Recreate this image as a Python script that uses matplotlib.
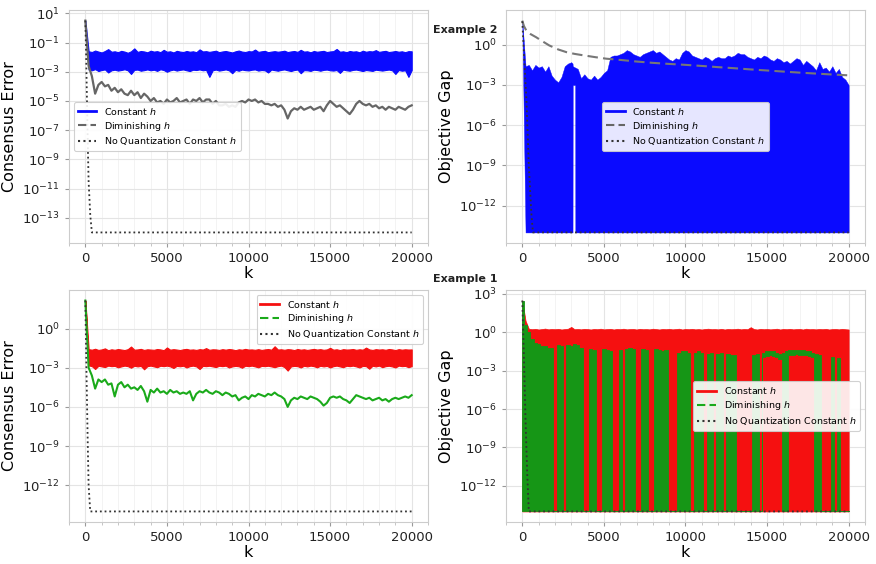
import numpy as np
import matplotlib
matplotlib.use("Agg")
import matplotlib.pyplot as plt
from matplotlib.lines import Line2D
from matplotlib.ticker import MultipleLocator, NullLocator

# iteration grid for the dense (noisy) series, one sample every 200 steps
k_grid = np.arange(0, 20001, 200)
FLOOR = -14.0  # log10 of the numerical floor

# ---------------- Example 2 (top row) ----------------
# consensus error, constant h: upper / lower edge of the noisy band (log10)
ex2_cons_const_hi = [0.5,
    -1.6, -1.65, -1.55, -1.62, -1.68, -1.58, -1.45, -1.63, -1.6, -1.66,
    -1.57, -1.62, -1.7, -1.6, -1.4, -1.64, -1.58, -1.61, -1.67, -1.56,
    -1.62, -1.59, -1.66, -1.5, -1.63, -1.6, -1.68, -1.57, -1.62, -1.65,
    -1.58, -1.63, -1.6, -1.66, -1.47, -1.61, -1.59, -1.64, -1.6, -1.56,
    -1.66, -1.61, -1.58, -1.63, -1.68, -1.6, -1.55, -1.62, -1.65, -1.59,
    -1.61, -1.48, -1.64, -1.6, -1.57, -1.66, -1.62, -1.59, -1.63, -1.6,
    -1.56, -1.65, -1.61, -1.58, -1.64, -1.5, -1.62, -1.6, -1.67, -1.58,
    -1.63, -1.6, -1.57, -1.65, -1.61, -1.59, -1.44, -1.63, -1.6, -1.66,
    -1.58, -1.62, -1.6, -1.67, -1.56, -1.63, -1.59, -1.61, -1.52, -1.64,
    -1.6, -1.57, -1.65, -1.62, -1.58, -1.63, -1.6, -1.66, -1.59, -1.6]
ex2_cons_const_lo = [0.5,
    -2.85, -2.9, -2.82, -2.95, -2.88, -2.84, -3.05, -2.9, -2.86, -2.92,
    -2.88, -2.83, -2.9, -3.15, -2.87, -2.85, -2.93, -2.89, -2.84, -2.9,
    -2.86, -2.94, -2.83, -2.88, -3.0, -2.9, -2.85, -2.92, -2.87, -2.84,
    -2.9, -2.95, -2.86, -2.88, -2.84, -2.9, -2.87, -3.35, -2.9, -2.85,
    -2.92, -2.88, -2.84, -2.9, -3.1, -2.87, -2.93, -2.85, -2.89, -2.91,
    -2.86, -2.84, -2.92, -2.88, -2.9, -3.05, -2.85, -2.89, -2.93, -2.87,
    -2.84, -2.9, -2.95, -2.88, -2.85, -3.1, -2.89, -2.9, -2.94, -2.86,
    -2.88, -2.93, -2.87, -2.85, -2.9, -2.92, -2.88, -3.08, -2.85, -2.9,
    -2.93, -2.87, -2.85, -2.9, -2.95, -2.88, -2.91, -2.94, -2.86, -2.89,
    -2.92, -2.88, -2.85, -2.9, -3.15, -2.88, -2.93, -2.9, -3.35, -2.88]
# consensus error, diminishing h (log10)
ex2_cons_dim = [0.5,
    -2.6, -3.3, -4.5, -3.9, -3.7, -4.0, -3.9, -4.3, -4.1, -4.4,
    -4.2, -4.5, -4.6, -4.3, -4.6, -4.4, -4.8, -4.5, -4.7, -5.0,
    -4.8, -5.1, -5.0, -5.2, -4.9, -5.1, -5.0, -4.8, -5.1, -5.0,
    -4.9, -5.2, -4.9, -5.0, -4.8, -5.1, -4.9, -4.9, -5.2, -5.0,
    -5.3, -5.3, -5.2, -5.4, -5.3, -5.4, -5.1, -5.0, -5.1, -4.9,
    -5.0, -4.9, -5.1, -5.0, -5.2, -5.2, -5.3, -5.2, -5.4, -5.3,
    -5.6, -6.2, -5.7, -5.5, -5.6, -5.4, -5.6, -5.5, -5.4, -5.6,
    -5.5, -5.4, -5.7, -5.3, -5.0, -5.2, -5.4, -5.3, -5.5, -5.7,
    -5.9, -5.6, -5.2, -5.0, -5.2, -5.3, -5.2, -5.4, -5.3, -5.5,
    -5.4, -5.6, -5.4, -5.5, -5.6, -5.4, -5.5, -5.6, -5.4, -5.3]
ex2_cons_noq_k = [0, 50, 100, 150, 200, 300, 400, 20000]
ex2_cons_noq = [0.5, -2.0, -5.0, -8.0, -10.5, -12.8, -14.0, -14.0]

# objective gap, constant h: the band reaches the floor everywhere except a
# short stretch (k = 3090..3240) where it stays above 1e-3
ex2_obj_k = (list(range(0, 3001, 200)) + [3080, 3090, 3240, 3250]
             + list(range(3400, 20001, 200)))
ex2_obj_const_hi = [1.75,
    -1.6, -1.5, -1.9, -1.5, -1.7, -1.6, -2.0, -1.6, -2.3, -2.6,
    -2.8, -2.4, -1.6, -1.4, -1.3, -1.4, -1.6, -1.7, -1.7,
    -1.8, -2.5, -2.2, -2.5,
    -2.6, -2.3, -2.6, -2.4, -2.1, -1.9, -0.9, -0.8, -0.8, -0.7,
    -0.6, -0.4, -0.5, -0.7, -0.8, -0.9, -0.7, -0.6, -0.5, -0.4,
    -0.6, -0.5, -0.7, -0.9, -1.1, -1.2, -1.0, -1.1, -0.6, -0.4,
    -0.5, -0.8, -0.9, -1.0, -1.1, -0.9, -1.0, -1.2, -1.0, -0.9,
    -1.0, -1.0, -0.8, -0.9, -0.8, -0.6, -0.7, -0.7, -0.9, -1.0,
    -1.1, -0.9, -1.0, -0.8, -0.9, -1.1, -1.2, -1.0, -1.1, -1.3,
    -1.2, -1.4, -1.2, -1.0, -1.1, -1.5, -1.2, -1.4, -1.6, -1.9,
    -1.3, -1.8, -1.7, -2.0, -1.6, -2.1, -1.8, -2.4, -2.6, -3.0]
ex2_obj_const_lo = ([1.75] + [FLOOR] * 15 + [FLOOR, -3.0, -3.0, FLOOR]
                    + [FLOOR] * 84)
ex2_obj_dim_k = [0, 100, 250, 500, 850, 1250, 1650, 2200, 2700, 3200, 3750,
                 4500, 5150, 6000, 7000, 8000, 9000, 10000, 11000, 12000,
                 13000, 14000, 15000, 16000, 17000, 18000, 19000, 20000]
ex2_obj_dim = [1.8, 1.4, 1.05, 0.8, 0.56, 0.25, -0.05, -0.35, -0.55, -0.68,
               -0.79, -0.93, -1.04, -1.13, -1.25, -1.35, -1.43, -1.5, -1.58,
               -1.67, -1.75, -1.84, -1.92, -2.0, -2.08, -2.15, -2.22, -2.28]
ex2_obj_noq_k = [0, 150, 250, 400, 550, 650, 20000]
ex2_obj_noq = [1.75, -1.8, -4.0, -9.0, -12.5, -14.0, -14.0]

# ---------------- Example 1 (bottom row) ----------------
ex1_cons_const_hi = [2.14,
    -1.58, -1.62, -1.55, -1.64, -1.6, -1.52, -1.66, -1.59, -1.63, -1.57,
    -1.61, -1.65, -1.58, -1.38, -1.62, -1.6, -1.56, -1.64, -1.59, -1.61,
    -1.63, -1.57, -1.6, -1.66, -1.45, -1.62, -1.58, -1.61, -1.65, -1.59,
    -1.56, -1.62, -1.6, -1.64, -1.58, -1.61, -1.5, -1.63, -1.59, -1.6,
    -1.64, -1.58, -1.62, -1.57, -1.6, -1.66, -1.59, -1.62, -1.56, -1.61,
    -1.6, -1.63, -1.58, -1.64, -1.6, -1.57, -1.62, -1.36, -1.61, -1.59,
    -1.63, -1.58, -1.6, -1.65, -1.57, -1.62, -1.59, -1.64, -1.6, -1.56,
    -1.61, -1.58, -1.63, -1.6, -1.48, -1.62, -1.59, -1.65, -1.58, -1.61,
    -1.6, -1.57, -1.63, -1.59, -1.62, -1.46, -1.6, -1.64, -1.58, -1.61,
    -1.59, -1.63, -1.57, -1.6, -1.65, -1.58, -1.62, -1.59, -1.61, -1.6]
ex1_cons_const_lo = [2.14,
    -2.82, -2.88, -3.1, -2.85, -2.9, -2.95, -2.84, -2.88, -2.86, -2.97,
    -2.9, -2.84, -2.88, -3.0, -2.85, -2.9, -2.86, -3.12, -2.88, -2.84,
    -2.9, -2.96, -2.85, -2.88, -2.84, -2.9, -3.02, -2.86, -2.89, -2.85,
    -2.98, -2.88, -2.84, -2.9, -3.1, -2.86, -2.88, -2.85, -2.9, -2.95,
    -2.85, -2.88, -2.84, -2.98, -2.9, -2.86, -2.89, -3.0, -2.85, -2.88,
    -2.84, -2.9, -2.97, -2.86, -2.88, -2.85, -2.9, -2.96, -2.88, -2.84,
    -2.95, -3.22, -2.9, -2.86, -2.88, -2.98, -2.85, -2.9, -2.84, -2.88,
    -2.97, -2.85, -2.9, -2.86, -2.98, -2.88, -2.84, -2.9, -2.96, -2.85,
    -2.88, -2.84, -2.9, -2.98, -2.86, -2.88, -3.08, -2.85, -2.9, -2.84,
    -2.96, -2.88, -2.85, -2.9, -2.98, -2.84, -2.88, -2.86, -2.96, -2.88]
ex1_cons_dim = [2.14,
    -3.0, -3.6, -4.6, -3.9, -4.1, -3.9, -4.3, -4.2, -5.2, -4.3,
    -4.1, -4.5, -4.3, -4.6, -4.5, -4.7, -4.4, -4.8, -5.6, -4.7,
    -4.9, -4.6, -4.9, -4.8, -5.0, -4.7, -4.9, -4.8, -5.0, -4.9,
    -5.0, -4.8, -5.5, -5.0, -4.8, -4.9, -4.7, -4.9, -5.0, -4.8,
    -4.9, -5.1, -4.9, -5.0, -5.2, -5.1, -5.5, -5.3, -5.2, -5.4,
    -5.1, -5.2, -5.0, -5.1, -5.2, -5.0, -5.1, -4.9, -5.1, -5.2,
    -5.4, -6.0, -5.5, -5.3, -5.4, -5.2, -5.3, -5.4, -5.2, -5.3,
    -5.4, -5.6, -5.9, -5.7, -5.3, -5.2, -5.3, -5.2, -5.4, -5.5,
    -5.7, -5.4, -5.1, -5.2, -5.3, -5.4, -5.3, -5.5, -5.4, -5.3,
    -5.5, -5.4, -5.6, -5.4, -5.3, -5.4, -5.3, -5.2, -5.3, -5.1]
ex1_cons_noq_k = [0, 50, 100, 150, 200, 300, 20000]
ex1_cons_noq = [2.14, -2.0, -5.5, -9.0, -12.0, -14.0, -14.0]

ex1_obj_const_hi = [2.48,
    0.9, 0.28, 0.24, 0.27, 0.22, 0.25, 0.29, 0.23, 0.26, 0.24,
    0.27, 0.22, 0.25, 0.28, 0.42, 0.24, 0.26, 0.23, 0.27, 0.25,
    0.22, 0.26, 0.24, 0.28, 0.23, 0.25, 0.27, 0.22, 0.26, 0.24,
    0.28, 0.23, 0.25, 0.26, 0.22, 0.27, 0.24, 0.25, 0.23, 0.28,
    0.25, 0.22, 0.26, 0.24, 0.27, 0.23, 0.25, 0.28, 0.22, 0.26,
    0.24, 0.27, 0.23, 0.25, 0.22, 0.26, 0.28, 0.24, 0.25, 0.23,
    0.27, 0.22, 0.26, 0.24, 0.25, 0.28, 0.23, 0.26, 0.24, 0.4,
    0.25, 0.22, 0.27, 0.24, 0.26, 0.23, 0.25, 0.28, 0.22, 0.26,
    0.24, 0.27, 0.23, 0.25, 0.26, 0.22, 0.28, 0.24, 0.25, 0.23,
    0.26, 0.24, 0.27, 0.22, 0.25, 0.26, 0.23, 0.27, 0.24, 0.22]
# diminishing h: top / bottom of the green band (floor where it stays at 1e-14)
ex1_obj_dim_hi = [2.48,
    0.6, 0.0, -0.5, -0.8, -0.95, -1.05, -1.1, -1.2, -1.2, FLOOR,
    -1.0, -1.1, FLOOR, -1.0, -1.1, -0.9, -1.0, -1.2, FLOOR, FLOOR,
    -1.3, -1.4, FLOOR, FLOOR, -1.3, -1.4, -1.5, FLOOR, FLOOR, -1.4,
    FLOOR, -1.3, -1.2, -1.3, FLOOR, FLOOR, -1.3, -1.4, FLOOR, FLOOR,
    -1.3, -1.4, -1.5, -1.4, FLOOR, FLOOR, FLOOR, -1.6, -1.5, -1.5,
    -1.6, FLOOR, -1.6, -1.5, -1.6, FLOOR, -1.7, -1.6, FLOOR, -1.7,
    -1.6, FLOOR, -1.7, -1.8, -1.8, FLOOR, FLOOR, FLOOR, FLOOR, FLOOR,
    -1.8, -1.7, FLOOR, -1.6, -1.5, -1.45, -1.5, -1.6, -1.7, -1.6,
    -1.5, -1.4, -1.4, -1.35, -1.4, -1.4, -1.45, -1.5, -1.6, -1.7,
    -1.8, FLOOR, FLOOR, FLOOR, -1.9, FLOOR, -2.0, FLOOR, FLOOR, FLOOR]
ex1_obj_dim_lo = [FLOOR] * 74 + [-1.95, -1.85, -1.8, -1.85, -1.95, -2.05,
                                 FLOOR, FLOOR, -1.75, -1.75, -1.7, -1.75,
                                 -1.75, -1.8, -1.85, -1.95] + [FLOOR] * 11
ex1_obj_noq_k = [0, 100, 200, 300, 400, 20000]
ex1_obj_noq = [2.48, -2.0, -7.0, -11.0, -14.0, -14.0]

BLUE = "#0a0aff"
RED = "#f51010"
GREEN_L = "#1aaa1a"
GREEN_R = "#169616"
GRAY = "#666666"
DOT = "#333333"


def p(vals):
    return 10.0 ** np.asarray(vals, dtype=float)


def style(ax, ytick_exps, ylabel):
    ax.set_yscale("log")
    ax.set_yticks([10.0 ** e for e in ytick_exps])
    ax.yaxis.set_minor_locator(NullLocator())
    ax.xaxis.set_major_locator(MultipleLocator(5000))
    ax.xaxis.set_minor_locator(MultipleLocator(1000))
    ax.grid(True, which="major", color="#e4e4e4", lw=0.8)
    ax.grid(True, which="minor", axis="x", color="#f1f1f1", lw=0.6)
    ax.set_axisbelow(True)
    for s in ax.spines.values():
        s.set_color("#cccccc")
        s.set_linewidth(0.8)
    ax.tick_params(which="major", length=3, width=0.8, color="#999999",
                   labelsize=9.5, labelcolor="#222222")
    ax.tick_params(which="minor", length=2, width=0.6, color="#bbbbbb")
    ax.set_xlabel("k", fontsize=11.5, labelpad=1)
    ax.set_ylabel(ylabel, fontsize=11.5)


def legend(ax, c_const, c_dim, loc):
    handles = [
        Line2D([], [], color=c_const, lw=2),
        Line2D([], [], color=c_dim, lw=1.5, ls=(0, (4, 2))),
        Line2D([], [], color=DOT, lw=1.5, ls=(0, (1, 1.6))),
    ]
    labels = ["Constant $h$", "Diminishing $h$", "No Quantization Constant $h$"]
    leg = ax.legend(handles, labels, loc=loc, fontsize=6.8, framealpha=0.9,
                    edgecolor="#cccccc", fancybox=True, labelspacing=0.3)
    leg.get_frame().set_linewidth(0.8)


fig = plt.figure(figsize=(8.76, 5.64), dpi=100)
ax_tl = fig.add_axes([0.0788, 0.5691, 0.4098, 0.4131])
ax_tr = fig.add_axes([0.5776, 0.5691, 0.4098, 0.4131])
ax_bl = fig.add_axes([0.0788, 0.0745, 0.4098, 0.4113])
ax_br = fig.add_axes([0.5776, 0.0745, 0.4098, 0.4113])

# top left: Example 2 consensus error
ax = ax_tl
ax.fill_between(k_grid, p(ex2_cons_const_lo), p(ex2_cons_const_hi),
                color=BLUE, lw=0.8)
ax.plot(k_grid, p(ex2_cons_dim), color=GRAY, lw=1.6)
ax.plot(ex2_cons_noq_k, p(ex2_cons_noq), color=DOT, lw=1.3, ls=(0, (1, 1.6)))
style(ax, range(1, -14, -2), "Consensus Error")
legend(ax, BLUE, GRAY, "center left")

# top right: Example 2 objective gap
ax = ax_tr
ax.fill_between(ex2_obj_k, p(ex2_obj_const_lo), p(ex2_obj_const_hi),
                color=BLUE, lw=0.3)
ax.plot(ex2_obj_dim_k, p(ex2_obj_dim), color="#777777", lw=1.5,
        ls=(0, (5, 2.5)))
ax.plot(ex2_obj_noq_k, p(ex2_obj_noq), color=DOT, lw=1.3, ls=(0, (1, 1.6)))
style(ax, range(0, -13, -3), "Objective Gap")
legend(ax, BLUE, GRAY, "center")

# bottom left: Example 1 consensus error
ax = ax_bl
ax.fill_between(k_grid, p(ex1_cons_const_lo), p(ex1_cons_const_hi),
                color=RED, lw=0.8)
ax.plot(k_grid, p(ex1_cons_dim), color=GREEN_L, lw=1.5)
ax.plot(ex1_cons_noq_k, p(ex1_cons_noq), color=DOT, lw=1.3, ls=(0, (1, 1.6)))
style(ax, range(0, -13, -3), "Consensus Error")
legend(ax, RED, GREEN_L, "upper right")

# bottom right: Example 1 objective gap
ax = ax_br
ax.fill_between(k_grid, np.full(len(k_grid), 10.0 ** FLOOR),
                p(ex1_obj_const_hi), color=RED, lw=0.5)
ax.fill_between(k_grid, p(ex1_obj_dim_lo), p(ex1_obj_dim_hi),
                color=GREEN_R, lw=0.6, step="mid")
ax.plot(ex1_obj_noq_k, p(ex1_obj_noq), color=DOT, lw=1.3, ls=(0, (1, 1.6)))
style(ax, range(3, -13, -3), "Objective Gap")
legend(ax, RED, GREEN_L, "center right")

fig.text(433 / 876, 1 - 30 / 564, "Example 2", fontsize=8, fontweight="bold",
         color="#222222", ha="left", va="center")
fig.text(433 / 876, 1 - 279 / 564, "Example 1", fontsize=8, fontweight="bold",
         color="#222222", ha="left", va="center")

fig.savefig("out.png", dpi=100)
